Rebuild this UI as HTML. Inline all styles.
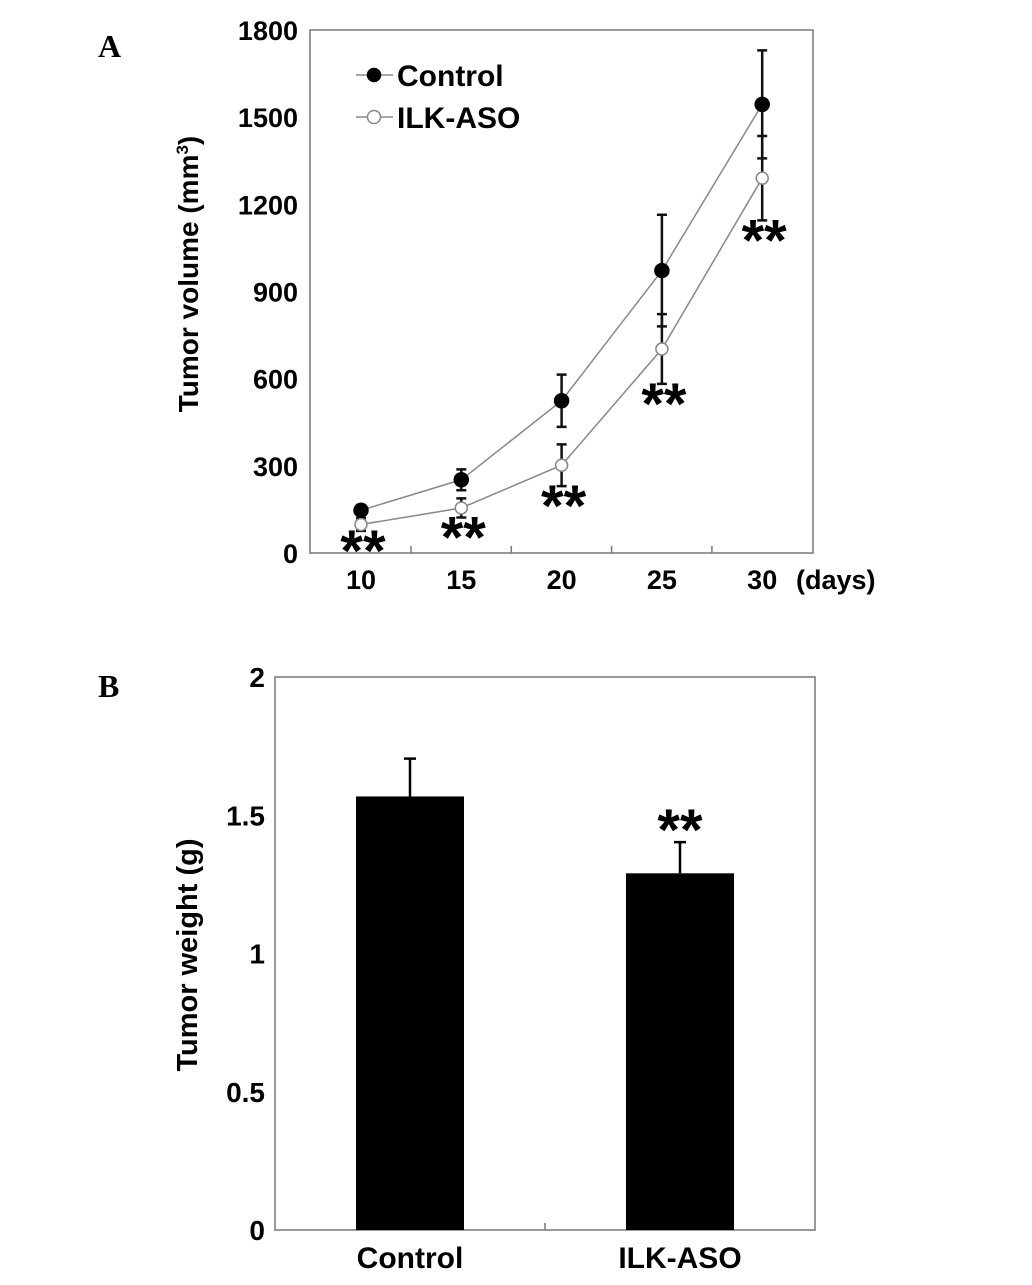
<!DOCTYPE html>
<html><head><meta charset="utf-8"><style>
body{margin:0;background:#fff;}
svg text{font-family:"Liberation Sans",Arial,sans-serif;font-weight:bold;fill:#000;}
</style></head><body>
<svg width="1032" height="1280" viewBox="0 0 1032 1280" xmlns="http://www.w3.org/2000/svg">
<text x="98" y="57" style="font-family:'Liberation Serif',serif;font-size:32px">A</text>
<text x="98" y="697" style="font-family:'Liberation Serif',serif;font-size:32px">B</text>
<g id="chartA"></g>
<g id="chartB"></g>
</svg>
<script>
const days = [10, 15, 20, 25, 30];
const controlVol = [147, 252, 524, 972, 1544];
const controlErr = [12, 36, 90, 192, 186];
const ilkVol = [98, 155, 302, 702, 1290];
const ilkErr = [22, 33, 72, 120, 145];
const volTicks = [0, 300, 600, 900, 1200, 1500, 1800];
const groups = ['Control', 'ILK-ASO'];
const weights = [1.568, 1.29];
const weightErr = [0.137, 0.113];
const weightTicks = [0, 0.5, 1, 1.5, 2];
const weightTickLabels = ['0', '0.5', '1', '1.5', '2'];

const NS = 'http://www.w3.org/2000/svg';
function mk(parent, tag, attrs, text) {
  const e = document.createElementNS(NS, tag);
  for (const k in attrs) e.setAttribute(k, attrs[k]);
  if (text !== undefined) e.textContent = text;
  parent.appendChild(e);
  return e;
}
// ---- Chart A ----
const A = document.getElementById('chartA');
const ax = i => 361 + i * 100.3;
const ay = v => 553 - v * (523 / 1800);
let frame = mk(A, 'rect', {x: 310, y: 30, width: 503, height: 523, fill: 'none', stroke: '#777', 'stroke-width': 1.5});


volTicks.forEach(t => {
  const lb = mk(A, 'text', {x: 298, y: ay(t) + 10, 'text-anchor': 'end', 'font-size': 27}, String(t));
  
  
});
days.forEach((d, i) => {
  const lb = mk(A, 'text', {x: ax(i), y: 589, 'text-anchor': 'middle', 'font-size': 27}, String(d));
  
  
  if (i < days.length - 1) {
    const tk = mk(A, 'line', {x1: ax(i) + 50, x2: ax(i) + 50, y1: 553, y2: 546, stroke: '#777', 'stroke-width': 1.5});
    
    
  }
});
const dl = mk(A, 'text', {x: 796, y: 589, 'font-size': 27}, '(days)');


const yt = mk(A, 'text', {x: 0, y: 0, 'font-size': 28, transform: 'translate(198,274) rotate(-90)', 'text-anchor': 'middle'});


yt.innerHTML = 'Tumor volume (mm<tspan dy="-10" font-size="17">3</tspan><tspan dy="10">)</tspan>';

function series(vals, errs, filled, name) {
  const pts = vals.map((v, i) => ax(i) + ',' + ay(v)).join(' ');
  const ln = mk(A, 'polyline', {points: pts, fill: 'none', stroke: '#888', 'stroke-width': 1.5});
  
  
  vals.forEach((v, i) => {
    const x = ax(i), y1 = ay(v + errs[i]), y2 = ay(v - errs[i]);
    const eb = mk(A, 'path', {d: `M${x},${y1}V${y2}M${x-5},${y1}H${x+5}M${x-5},${y2}H${x+5}`, stroke: '#111', 'stroke-width': 2.5, fill: 'none'});
    
    
    const c = mk(A, 'circle', {cx: x, cy: ay(v), r: filled ? 7 : 6, fill: filled ? '#000' : '#fff', stroke: filled ? '#000' : '#888', 'stroke-width': 1.5});
    
    
  });
}
series(ilkVol, ilkErr, false, 'ilk-aso');
series(controlVol, controlErr, true, 'control');
ilkVol.forEach((v, i) => {
  const y = ay(v - ilkErr[i]) + 40;
  const s = mk(A, 'text', {x: ax(i) + 2, y: y, 'text-anchor': 'middle', 'font-size': 58}, '**');
  
  
});
// legend
[['Control', true, 75], ['ILK-ASO', false, 117]].forEach(([t, f, y]) => {
  const l = mk(A, 'line', {x1: 356, x2: 393, y1: y, y2: y, stroke: '#888', 'stroke-width': 1.5});
  
  
  const c = mk(A, 'circle', {cx: 374, cy: y, r: 6.5, fill: f ? '#000' : '#fff', stroke: f ? '#000' : '#888', 'stroke-width': 1.5});
  
  
  const tx = mk(A, 'text', {x: 397, y: y + 11, 'font-size': 30}, t);
  
  
});
// ---- Chart B ----
const B = document.getElementById('chartB');
const by = v => 1230 - v * (553 / 2);
const bx = i => 410 + i * 270;
const fb = mk(B, 'rect', {x: 275, y: 677, width: 540, height: 553, fill: 'none', stroke: '#777', 'stroke-width': 1.5});


const mt = mk(B, 'line', {x1: 545, x2: 545, y1: 1230, y2: 1223, stroke: '#777', 'stroke-width': 1.5});


weightTicks.forEach((t, i) => {
  const lb = mk(B, 'text', {x: 265, y: by(t) + 10, 'text-anchor': 'end', 'font-size': 28}, weightTickLabels[i]);
  
  
});
const yb = mk(B, 'text', {x: 0, y: 0, 'font-size': 29, transform: 'translate(197,955) rotate(-90)', 'text-anchor': 'middle'}, 'Tumor weight (g)');


groups.forEach((g, i) => {
  const x = bx(i), top = by(weights[i]), et = by(weights[i] + weightErr[i]);
  const eb = mk(B, 'path', {d: `M${x},${top}V${et}M${x-6},${et}H${x+6}`, stroke: '#000', 'stroke-width': 2.5, fill: 'none'});
  
  
  const r = mk(B, 'rect', {x: x - 54, y: top, width: 108, height: 1230 - top, fill: '#000'});
  
  
  const lb = mk(B, 'text', {x: x, y: 1268, 'text-anchor': 'middle', 'font-size': 30}, g);
  
  
});
const sb = mk(B, 'text', {x: bx(1), y: 850, 'text-anchor': 'middle', 'font-size': 58}, '**');


</script>
</body></html>
